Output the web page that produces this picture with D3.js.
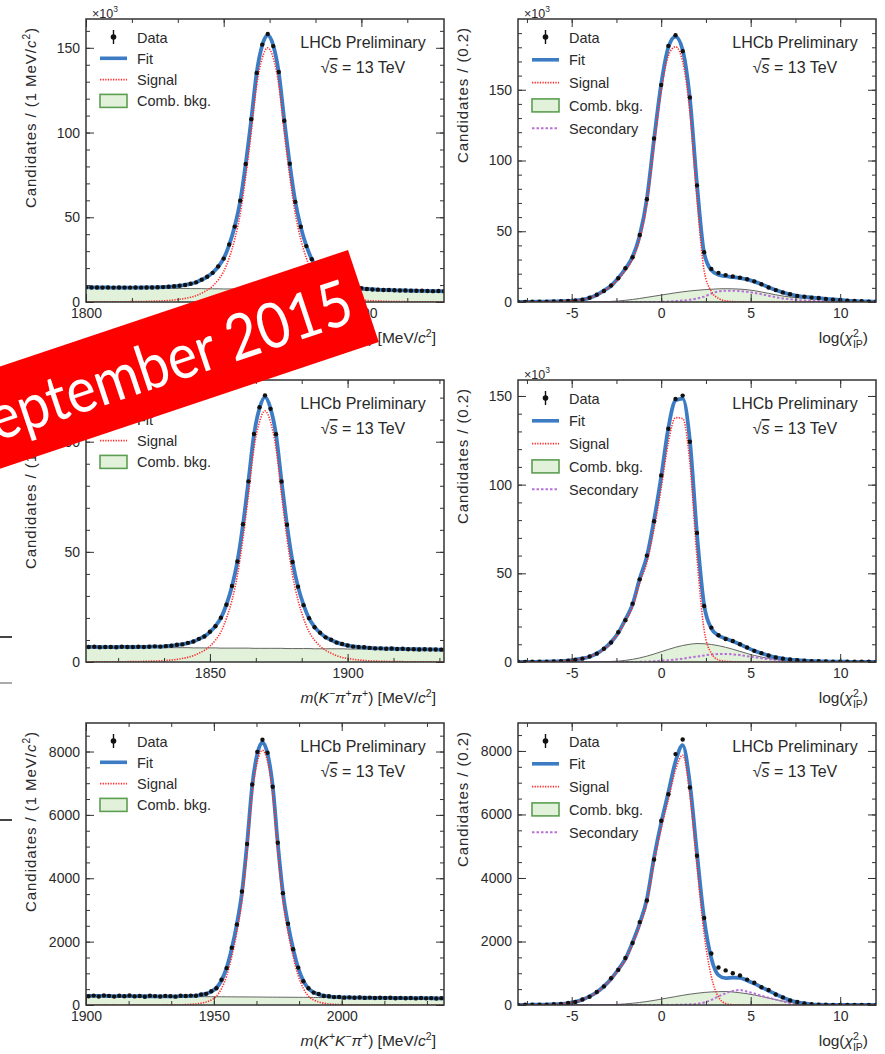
<!DOCTYPE html>
<html>
<head>
<meta charset="UTF-8">
<title>LHCb Preliminary - charm yields, September 2015</title>
<script src="https://d3js.org/d3.v7.min.js"></script>
<style>
  body { margin: 0; background: #fff; }
  svg text { font-family: "Liberation Sans", Arial, sans-serif; fill: #2a2a2a; }
</style>
</head>
<body>
<script>
// ---------------- D0 -> K- pi+ : mass (x10^3 candidates / 1 MeV) ----------------
var d0MassBins = d3.range(1800, 1931, 2);
var d0MassSignal = [
  0.05,0.05,0.06,0.07,0.08,0.1,0.12,0.15,0.2,0.22,
  0.26,0.35,0.45,0.55,0.7,0.9,1.2,1.6,2.1,2.8,
  3.8,5.2,7,9.5,13,18,26,37,52,74,
  100,128,144,150,144,128,100,74,52,37,
  26,18,13,9.5,7,5.2,3.8,2.8,2.1,1.6,
  1.2,0.9,0.7,0.55,0.45,0.35,0.26,0.22,0.2,0.15,
  0.12,0.1,0.08,0.07,0.06,0.05];
var d0MassComb = [
  8.6,8.6,8.5,8.5,8.5,8.4,8.4,8.4,8.3,8.3,
  8.3,8.2,8.2,8.1,8.1,8.1,8.0,8.0,8.0,7.9,
  7.9,7.9,7.8,7.8,7.8,7.7,7.7,7.7,7.6,7.6,
  7.6,7.5,7.5,7.4,7.4,7.4,7.3,7.3,7.3,7.2,
  7.2,7.2,7.1,7.1,7.1,7.0,7.0,7.0,6.9,6.9,
  6.9,6.8,6.8,6.7,6.7,6.7,6.6,6.6,6.6,6.5,
  6.5,6.5,6.4,6.4,6.4,6.3];
var d0MassData = [
  8.7,8.6,8.6,8.5,8.6,8.5,8.6,8.5,8.5,8.6,
  8.5,8.6,8.6,8.7,8.8,9.0,9.3,9.6,10.0,10.8,
  11.6,13.2,14.9,17.2,21.0,25.6,33.9,44.5,59.8,81.4,
  107.9,135.2,151.9,158.2,151.0,135.7,107.0,81.6,59.1,44.4,
  33.0,25.3,20.0,16.7,14.0,12.3,10.7,9.9,9.0,8.4,
  8.2,7.7,7.4,7.3,7.1,7.1,6.9,6.8,6.8,6.7,
  6.6,6.6,6.5,6.4,6.5,6.4];

// ---------------- log(chi2_IP) bins, shared by the three right panels ----------------
var ipBins = d3.range(51).map(function(i) { return -8 + 0.4 * i; });

// D0 : log(chi2_IP) (x10^3 candidates / 0.2)
var d0IpSignal = [
  0.1,0.1,0.15,0.2,0.3,0.4,0.55,0.75,1.0,1.7,
  2.9,4.9,7.8,11.1,16.3,22.3,30.2,44.5,69.7,110.9,
  149,174,180.4,169.8,134.6,72.2,22,7.5,2.5,0.8,
  0.3,0.1,0.05,0,0,0,0,0,0,0,
  0,0,0,0,0,0,0,0,0,0,0];
var d0IpComb = [
  0,0,0,0,0,0,0,0,0,0,
  0.05,0.1,0.2,0.4,0.7,1.2,1.8,2.5,3.3,4.1,
  4.9,5.7,6.5,7.2,7.8,8.3,8.7,9.0,9.3,9.4,
  9.3,9.1,8.7,8.0,7.1,6.1,5.1,4.2,3.5,3.0,
  2.6,2.3,2.0,1.7,1.4,1.1,0.8,0.6,0.4,0.3,0.2];
var d0IpSecondary = [
  0,0,0,0,0,0,0,0,0,0,
  0,0,0,0,0,0,0,0,0,0,
  0.1,0.3,0.6,1.0,1.6,2.5,3.8,6.0,7.5,8.0,
  8.0,7.7,7.2,6.4,5.5,4.4,3.4,2.5,1.9,1.4,
  1.1,0.9,0.7,0.5,0.4,0.3,0.2,0.1,0.1,0.05,0.05];
var d0IpData = [
  0.1,0.1,0.2,0.2,0.3,0.4,0.6,0.7,1.1,1.6,
  3.0,5.1,7.8,11.7,16.8,23.9,31.6,47.4,72.6,115.5,
  153.4,181.0,188.5,177.2,144.5,82.4,35.2,23.4,20.6,19.0,
  18.1,17.2,16.1,14.6,12.5,10.3,8.4,6.8,5.5,4.3,
  3.8,3.1,2.8,2.2,1.7,1.4,1.0,0.7,0.5,0.3,0.2];

// ---------------- D+ -> K- pi+ pi+ : mass ----------------
var dpMassBins = d3.range(1804, 1937, 2);
var dpMassSignal = [
  0.04,0.05,0.05,0.06,0.07,0.08,0.1,0.12,0.15,0.18,
  0.22,0.27,0.34,0.42,0.5,0.7,0.9,1.2,1.6,2.1,
  2.9,4.0,5.3,7.2,9.9,13.7,19.8,28,39.5,56,
  76,97,109,114,109,97,76,56,39.5,28,
  19.8,13.7,9.9,7.2,5.3,4.0,2.9,2.1,1.6,1.2,
  0.9,0.7,0.5,0.42,0.34,0.27,0.22,0.18,0.15,0.12,
  0.1,0.08,0.07,0.06,0.05,0.05,0.04];
var dpMassComb = [
  6.8,6.8,6.8,6.7,6.7,6.7,6.7,6.7,6.7,6.6,
  6.6,6.6,6.6,6.6,6.5,6.5,6.5,6.5,6.5,6.5,
  6.4,6.4,6.4,6.4,6.4,6.3,6.3,6.3,6.3,6.3,
  6.3,6.2,6.2,6.2,6.2,6.2,6.2,6.1,6.1,6.1,
  6.1,6.1,6.0,6.0,6.0,6.0,6.0,6.0,5.9,5.9,
  5.9,5.9,5.9,5.8,5.8,5.8,5.8,5.8,5.8,5.7,
  5.7,5.7,5.7,5.7,5.6,5.6,5.6];
var dpMassData = [
  6.9,6.8,6.9,6.7,6.8,6.8,6.7,6.9,6.8,6.8,
  6.9,6.8,6.9,7.1,7.0,7.2,7.4,7.8,8.0,8.7,
  9.3,10.5,11.6,13.7,16.2,20.1,26.0,34.5,45.6,62.5,
  82.0,103.5,115.6,121.0,114.9,103.4,81.9,62.3,45.4,34.2,
  25.8,19.9,15.8,13.3,11.2,10.1,8.8,8.2,7.5,7.0,
  6.8,6.7,6.4,6.2,6.2,6.0,6.1,5.9,6.0,5.8,
  5.8,5.7,5.8,5.7,5.7,5.6,5.7];

// D+ : log(chi2_IP)
var dpIpSignal = [
  0.05,0.05,0.1,0.15,0.2,0.35,0.5,0.8,1.2,2.0,
  2.95,4.7,7.2,10.9,16.0,23.1,31.0,44.6,56.0,75.1,
  98.0,123.9,137.8,137.3,112.5,58.5,18.0,4.9,1.2,0.4,
  0.15,0.05,0,0,0,0,0,0,0,0,
  0,0,0,0,0,0,0,0,0,0,0];
var dpIpComb = [
  0,0,0,0,0,0,0,0,0,0,
  0.05,0.1,0.2,0.3,0.5,0.9,1.5,2.3,3.3,4.5,
  5.8,7.1,8.3,9.3,10.0,10.4,10.3,9.9,9.2,8.3,
  7.2,6.0,4.8,3.7,2.8,2.0,1.4,1.0,0.7,0.5,
  0.3,0.2,0.15,0.1,0.08,0.05,0.04,0.03,0.02,0.01,0];
var dpIpSecondary = [
  0,0,0,0,0,0,0,0,0,0,
  0,0,0,0,0,0,0,0.1,0.2,0.4,
  0.7,1.0,1.4,1.9,2.5,3.1,3.7,4.2,4.5,4.5,
  4.3,3.9,3.3,2.7,2.1,1.6,1.2,0.9,0.7,0.5,
  0.4,0.3,0.25,0.2,0.15,0.12,0.1,0.08,0.06,0.05,0.04];
var dpIpData = [
  0.1,0.0,0.1,0.2,0.2,0.3,0.5,0.8,1.3,1.9,
  3.1,4.7,7.5,11.0,16.8,23.6,32.9,46.6,60.0,79.4,
  105.2,131.5,148.3,150.2,124.2,72.8,31.6,19.4,15.1,13.0,
  11.8,10.0,8.2,6.3,5.0,3.7,2.6,1.9,1.4,1.0,
  0.7,0.5,0.4,0.3,0.2,0.2,0.1,0.1,0.1,0.1,0.0];

// ---------------- Ds+ -> K+ K- pi+ : mass (candidates / 1 MeV) ----------------
var dsMassBins = d3.range(1899, 2042, 2);
var dsMassSignal = [
  0,0,0,0,0,0,0,0,0,0,
  0,0.5,0.6,0.8,1,1.5,2,3,5,8,
  12,20,32,56,96,160,280,520,920,1530,
  2300,3300,4850,6670,7680,8040,7680,6670,4850,3300,
  2300,1530,920,520,280,160,96,56,32,20,
  12,8,5,3,2,1.5,1,0.8,0.6,0.5,
  0,0,0,0,0,0,0,0,0,0,0,0];
var dsMassComb = [
  290,289,288,287,285,284,283,282,281,280,
  279,278,276,275,274,273,272,271,270,269,
  267,266,265,264,263,262,261,260,258,257,
  256,255,254,253,252,251,249,248,247,246,
  245,244,243,242,240,239,238,237,236,235,
  234,233,231,230,229,228,227,226,225,224,
  222,221,220,219,218,217,216,215,213,212,
  211,210];
var dsMassData = [
  305,278,296,270,301,289,265,294,276,298,
  271,285,262,290,281,268,287,279,263,291,
  284,297,290,331,352,436,530,795,1165,1810,
  2540,3580,5080,6960,7990,8370,7960,6890,5120,3530,
  2565,1760,1180,750,530,392,345,286,274,249,
  253,232,241,228,237,224,233,221,230,219,
  228,214,226,211,223,209,220,210,218,205,
  216,207];

// Ds+ : log(chi2_IP)
var dsIpSignal = [
  5,6,8,10,14,20,35,60,100,170,
  270,400,585,810,1100,1415,1915,2490,3220,4495,
  5555,6465,7400,7865,6620,4365,2225,900,250,50,
  10,2,0,0,0,0,0,0,0,0,
  0,0,0,0,0,0,0,0,0,0,0];
var dsIpComb = [
  0,0,0,0,0,0,0,0,0,0,
  0,0,5,10,20,35,55,80,110,145,
  185,225,265,305,340,370,395,412,420,425,
  410,385,355,315,270,220,170,125,85,55,
  30,15,8,4,2,1,1,0,0,0,0];
var dsIpSecondary = [
  0,0,0,0,0,0,0,0,0,0,
  0,0,0,0,0,0,0,0,0,0,
  0,0,5,10,20,35,80,160,270,370,
  440,470,420,360,290,230,170,110,65,35,
  18,8,4,2,1,0,0,0,0,0,0];
var dsIpData = [
  4,8,6,12,13,22,33,62,96,175,
  262,410,585,840,1105,1480,1950,2610,3290,4580,
  5800,6640,7900,8360,6850,4700,2740,1620,1180,1090,
  1000,930,800,700,560,470,330,240,145,95,
  50,25,10,8,3,2,0,1,0,1,0];

// axis ticks
var d0MassTicks = [1800, 1850, 1900];
var dpMassTicks = [1850, 1900];
var dsMassTicks = [1900, 1950, 2000];
var ipTicks = [-5, 0, 5, 10];
var kTicks = [0, 50, 100, 150];
var countTicks = [0, 2000, 4000, 6000, 8000];

// ---------------- layout ----------------
var W = 885, H = 1054;
var colLeft = [86, 518], frameW = 358;
var rowTop = [19, 380, 723], rowBottom = [302, 662, 1005];

var svg = d3.select("body").append("svg")
  .attr("width", W)
  .attr("height", H);

// little text helper: parts are {t, it, sup, sub, dx}
function rich(sel, parts) {
  var shift = 0;
  parts.forEach(function(p) {
    var ts = sel.append("tspan").text(p.t);
    var want = p.sup ? -6 : (p.sub ? 5 : 0);
    if (want !== shift) { ts.attr("dy", want - shift); shift = want; }
    if (p.it) ts.attr("font-style", "italic");
    if (p.sup || p.sub) ts.attr("font-size", "0.68em");
    if (p.dx) ts.attr("dx", p.dx);
  });
}

var massYTitle = [{t: "Candidates / (1 MeV/"}, {t: "c", it: true}, {t: "2", sup: true}, {t: ")"}];
var ipYTitle = [{t: "Candidates / (0.2)"}];
var ipXTitle = [{t: "log("}, {t: "\u03c7", it: true}, {t: "2", sup: true}, {t: "IP", sub: true, dx: -6}, {t: ")"}];

var panels = [
  {col: 0, row: 0, bins: d0MassBins, sig: d0MassSignal, comb: d0MassComb, data: d0MassData,
   xDom: [1800, 1930], yDom: [0, 167], xTicks: d0MassTicks, xMinor: d3.range(1800, 1931, 50 / 3),
   yTicks: kTicks, yMinor: d3.range(0, 167, 10), exp: true, yTitle: massYTitle, yLen: 180,
   xTitle: [{t: "m", it: true}, {t: "("}, {t: "K", it: true}, {t: "\u2212", sup: true}, {t: "\u03c0", it: true},
            {t: "+", sup: true}, {t: ") [MeV/"}, {t: "c", it: true}, {t: "2", sup: true}, {t: "]"}]},
  {col: 1, row: 0, bins: ipBins, sig: d0IpSignal, comb: d0IpComb, sec: d0IpSecondary, data: d0IpData,
   xDom: [-8, 12], yDom: [0, 200], xTicks: ipTicks, xMinor: d3.range(-7.5, 12, 2.5),
   yTicks: kTicks, yMinor: d3.range(0, 200, 10), exp: true, yTitle: ipYTitle, yLen: 135, xTitle: ipXTitle},
  {col: 0, row: 1, bins: dpMassBins, sig: dpMassSignal, comb: dpMassComb, data: dpMassData,
   xDom: [1805, 1935], yDom: [0, 128], xTicks: dpMassTicks, xMinor: d3.range(1816 + 2 / 3, 1935, 50 / 3),
   yTicks: [0, 50, 100], yMinor: d3.range(0, 128, 10), exp: true, yTitle: massYTitle, yLen: 180,
   xTitle: [{t: "m", it: true}, {t: "("}, {t: "K", it: true}, {t: "\u2212", sup: true}, {t: "\u03c0", it: true},
            {t: "+", sup: true}, {t: "\u03c0", it: true}, {t: "+", sup: true}, {t: ") [MeV/"}, {t: "c", it: true},
            {t: "2", sup: true}, {t: "]"}]},
  {col: 1, row: 1, bins: ipBins, sig: dpIpSignal, comb: dpIpComb, sec: dpIpSecondary, data: dpIpData,
   xDom: [-8, 12], yDom: [0, 159], xTicks: ipTicks, xMinor: d3.range(-7.5, 12, 2.5),
   yTicks: kTicks, yMinor: d3.range(0, 159, 10), exp: true, yTitle: ipYTitle, yLen: 135, xTitle: ipXTitle},
  {col: 0, row: 2, bins: dsMassBins, sig: dsMassSignal, comb: dsMassComb, data: dsMassData,
   xDom: [1900, 2040], yDom: [0, 8900], xTicks: dsMassTicks, xMinor: d3.range(1900, 2041, 50 / 3),
   yTicks: countTicks, yMinor: d3.range(0, 8900, 500), exp: false, yTitle: massYTitle, yLen: 180,
   xTitle: [{t: "m", it: true}, {t: "("}, {t: "K", it: true}, {t: "+", sup: true}, {t: "K", it: true},
            {t: "\u2212", sup: true}, {t: "\u03c0", it: true}, {t: "+", sup: true}, {t: ") [MeV/"},
            {t: "c", it: true}, {t: "2", sup: true}, {t: "]"}]},
  {col: 1, row: 2, bins: ipBins, sig: dsIpSignal, comb: dsIpComb, sec: dsIpSecondary, data: dsIpData,
   xDom: [-8, 12], yDom: [0, 8880], xTicks: ipTicks, xMinor: d3.range(-7.5, 12, 2.5),
   yTicks: countTicks, yMinor: d3.range(0, 8880, 500), exp: false, yTitle: ipYTitle, yLen: 135, xTitle: ipXTitle}
];

// plain hyphen for negative tick labels, like the original
function fmt(d) { return String(d); }

panels.forEach(function(p, k) {
  var left = colLeft[p.col], right = left + frameW;
  var top = rowTop[p.row], bottom = rowBottom[p.row];

  var x = d3.scaleLinear().domain(p.xDom).range([left, right]);
  var y = d3.scaleLinear().domain(p.yDom).range([bottom, top]);

  var fit = p.bins.map(function(b, i) { return p.sig[i] + p.comb[i] + (p.sec ? p.sec[i] : 0); });

  var g = svg.append("g");
  var clipId = "clip" + k;
  g.append("clipPath").attr("id", clipId)
    .append("rect").attr("x", left).attr("y", top).attr("width", frameW).attr("height", bottom - top);
  var plot = g.append("g").attr("clip-path", "url(#" + clipId + ")");

  // combinatorial background (filled)
  var area = d3.area()
    .x(function(d, i) { return x(p.bins[i]); })
    .y0(y(0))
    .y1(function(d) { return y(d); })
    .curve(d3.curveMonotoneX);
  plot.append("path").attr("d", area(p.comb))
    .attr("fill", "#e2f1da").attr("stroke", "none");
  var line = d3.line()
    .x(function(d, i) { return x(p.bins[i]); })
    .y(function(d) { return y(d); })
    .curve(d3.curveMonotoneX);
  plot.append("path").attr("d", line(p.comb))
    .attr("fill", "none").attr("stroke", "#555").attr("stroke-width", 0.9);

  if (p.sec) {
    plot.append("path").attr("d", line(p.sec))
      .attr("fill", "none").attr("stroke", "#b871d8").attr("stroke-width", 2)
      .attr("stroke-dasharray", "2.5,2");
  }

  plot.append("path").attr("d", line(fit))
    .attr("fill", "none").attr("stroke", "#3b7cc4").attr("stroke-width", 3.8);

  plot.append("path").attr("d", line(p.sig))
    .attr("fill", "none").attr("stroke", "#ff2e2e").attr("stroke-width", 1.6)
    .attr("stroke-dasharray", "1.3,1.3");

  plot.selectAll(".pt").data(p.data).enter().append("circle")
    .attr("class", "pt")
    .attr("cx", function(d, i) { return x(p.bins[i]); })
    .attr("cy", function(d) { return y(d); })
    .attr("r", 2.2)
    .attr("fill", "#111");

  // axes, ticks pointing into the frame on all four sides
  function clean(a) { a.select(".domain").remove(); a.selectAll("line").attr("stroke", "#333"); }
  var xb = g.append("g").attr("transform", "translate(0," + bottom + ")")
    .call(d3.axisBottom(x).tickValues(p.xTicks).tickSize(-8).tickPadding(6).tickFormat(fmt));
  xb.call(clean);
  xb.selectAll("text").attr("font-size", 14).attr("fill", "#2a2a2a");
  g.append("g").attr("transform", "translate(0," + bottom + ")")
    .call(d3.axisBottom(x).tickValues(p.xMinor).tickSize(-4).tickFormat("")).call(clean);
  g.append("g").attr("transform", "translate(0," + top + ")")
    .call(d3.axisTop(x).tickValues(p.xTicks).tickSize(-8).tickFormat("")).call(clean);
  g.append("g").attr("transform", "translate(0," + top + ")")
    .call(d3.axisTop(x).tickValues(p.xMinor).tickSize(-4).tickFormat("")).call(clean);

  var yl = g.append("g").attr("transform", "translate(" + left + ",0)")
    .call(d3.axisLeft(y).tickValues(p.yTicks).tickSize(-8).tickPadding(6).tickFormat(fmt));
  yl.call(clean);
  yl.selectAll("text").attr("font-size", 14).attr("fill", "#2a2a2a");
  g.append("g").attr("transform", "translate(" + left + ",0)")
    .call(d3.axisLeft(y).tickValues(p.yMinor).tickSize(-4).tickFormat("")).call(clean);
  g.append("g").attr("transform", "translate(" + right + ",0)")
    .call(d3.axisRight(y).tickValues(p.yTicks).tickSize(-8).tickFormat("")).call(clean);
  g.append("g").attr("transform", "translate(" + right + ",0)")
    .call(d3.axisRight(y).tickValues(p.yMinor).tickSize(-4).tickFormat("")).call(clean);

  g.append("rect").attr("x", left).attr("y", top).attr("width", frameW).attr("height", bottom - top)
    .attr("fill", "none").attr("stroke", "#333").attr("stroke-width", 1.5);

  if (p.exp) {
    var ex = g.append("text").attr("x", left + 6).attr("y", top - 1).attr("font-size", 12.5);
    rich(ex, [{t: "\u00d710"}, {t: "3", sup: true}]);
  }

  // axis titles
  var ytx = (p.col === 0 ? 36 : 468);
  var yt = g.append("text")
    .attr("transform", "translate(" + ytx + "," + (top + 9) + ") rotate(-90)")
    .attr("text-anchor", "end").attr("font-size", 15)
    .attr("textLength", p.yLen).attr("lengthAdjust", "spacing");
  rich(yt, p.yTitle);

  var xt = g.append("text").attr("x", right - 8).attr("y", bottom + 41)
    .attr("text-anchor", "end").attr("font-size", 15.5);
  rich(xt, p.xTitle);

  // LHCb label
  var cx = (p.col === 0 ? 363 : 795);
  g.append("text").attr("x", cx).attr("y", top + 29).attr("text-anchor", "middle")
    .attr("font-size", 16).text("LHCb Preliminary");
  var rs = g.append("text").attr("x", cx).attr("y", top + 54).attr("text-anchor", "middle")
    .attr("font-size", 16);
  rs.append("tspan").text("\u221a");
  rs.append("tspan").attr("font-style", "italic").style("text-decoration", "overline").text("s");
  rs.append("tspan").text(" = 13 TeV");

  // legend
  var entries = ["Data", "Fit", "Signal", "Comb. bkg."];
  if (p.sec) entries.push("Secondary");
  var step = p.sec ? 22.8 : 21.3;
  var sx0 = left + 14, sx1 = left + 41, tx = left + 51;
  entries.forEach(function(name, j) {
    var cy = top + 18 + j * step;
    if (name === "Data") {
      g.append("line").attr("x1", (sx0 + sx1) / 2).attr("x2", (sx0 + sx1) / 2)
        .attr("y1", cy - 7).attr("y2", cy + 7).attr("stroke", "#111").attr("stroke-width", 1.4);
      g.append("circle").attr("cx", (sx0 + sx1) / 2).attr("cy", cy).attr("r", 2.8).attr("fill", "#111");
    } else if (name === "Fit") {
      g.append("line").attr("x1", sx0).attr("x2", sx1).attr("y1", cy).attr("y2", cy)
        .attr("stroke", "#3b7cc4").attr("stroke-width", 3.6);
    } else if (name === "Signal") {
      g.append("line").attr("x1", sx0).attr("x2", sx1).attr("y1", cy).attr("y2", cy)
        .attr("stroke", "#ff2e2e").attr("stroke-width", 1.6).attr("stroke-dasharray", "1.3,1.3");
    } else if (name === "Secondary") {
      g.append("line").attr("x1", sx0).attr("x2", sx1).attr("y1", cy).attr("y2", cy)
        .attr("stroke", "#b871d8").attr("stroke-width", 2).attr("stroke-dasharray", "2.5,2");
    } else {
      g.append("rect").attr("x", sx0).attr("y", cy - 6.5).attr("width", sx1 - sx0).attr("height", 13)
        .attr("fill", "#e2f1da").attr("stroke", "#5c9e52").attr("stroke-width", 1.6);
    }
    g.append("text").attr("x", tx).attr("y", cy + 5.5).attr("font-size", 14.5).text(name);
  });
});

// bits of the neighbouring slide at the left edge
var stubs = [{y: 637, c: "#444"}, {y: 683, c: "#aaa"}, {y: 820, c: "#444"}];
svg.selectAll(".stub").data(stubs).enter().append("line")
  .attr("class", "stub")
  .attr("x1", 0).attr("x2", 12)
  .attr("y1", function(d) { return d.y; }).attr("y2", function(d) { return d.y; })
  .attr("stroke", function(d) { return d.c; }).attr("stroke-width", 2);

// red date banner across the upper left
var banner = svg.append("g").attr("transform", "translate(348,250) rotate(-18.5)");
banner.append("rect").attr("x", -760).attr("y", 0).attr("width", 760).attr("height", 97)
  .attr("fill", "#ff0000");
banner.append("text").attr("x", -14).attr("y", 70).attr("text-anchor", "end")
  .attr("font-size", 63).style("font-family", "Lato, 'Open Sans', sans-serif").style("fill", "#fff")
  .attr("textLength", 410).attr("lengthAdjust", "spacingAndGlyphs")
  .text("September 2015");
</script>
</body>
</html>
